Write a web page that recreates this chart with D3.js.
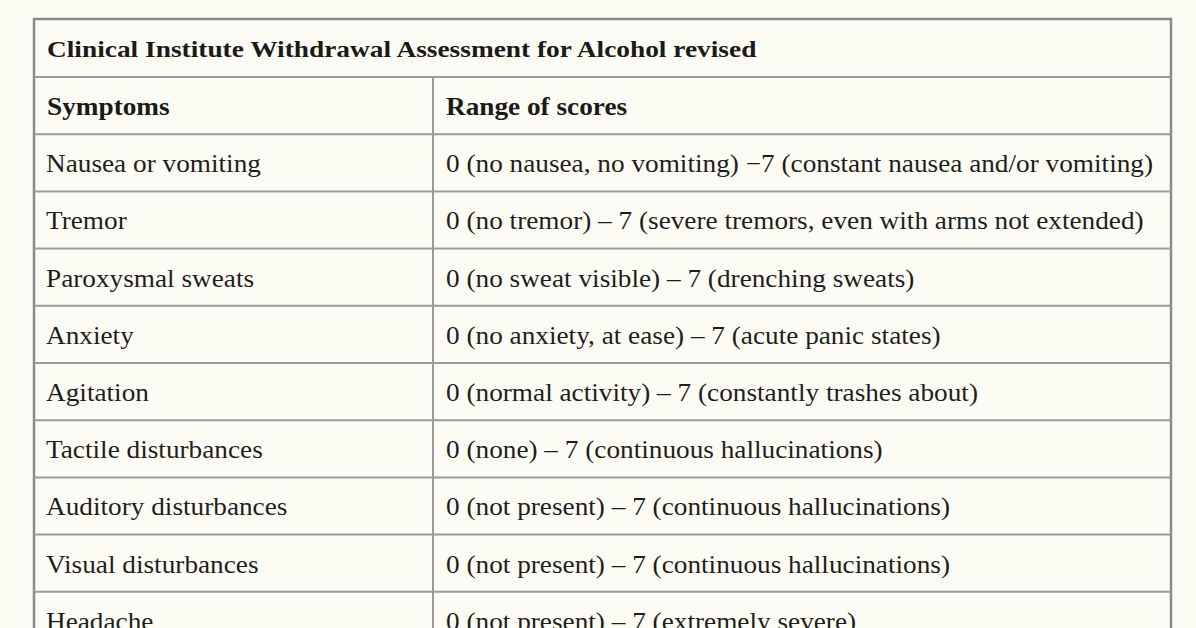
<!DOCTYPE html>
<html><head><meta charset="utf-8">
<script src="https://cdn.jsdelivr.net/npm/d3@7"></script>
<style>body{margin:0;background:#fdfcf4;}svg{display:block}</style>
</head><body><svg id="c" width="1196" height="628"></svg>
<script>
const title = "Clinical Institute Withdrawal Assessment for Alcohol revised";
const headers = ["Symptoms", "Range of scores"];
const symptoms = ["Nausea or vomiting","Tremor","Paroxysmal sweats","Anxiety","Agitation","Tactile disturbances","Auditory disturbances","Visual disturbances","Headache"];
const ranges = ["0 (no nausea, no vomiting) \u22127 (constant nausea and/or vomiting)",
"0 (no tremor) \u2013 7 (severe tremors, even with arms not extended)",
"0 (no sweat visible) \u2013 7 (drenching sweats)",
"0 (no anxiety, at ease) \u2013 7 (acute panic states)",
"0 (normal activity) \u2013 7 (constantly trashes about)",
"0 (none) \u2013 7 (continuous hallucinations)",
"0 (not present) \u2013 7 (continuous hallucinations)",
"0 (not present) \u2013 7 (continuous hallucinations)",
"0 (not present) \u2013 7 (extremely severe)"];
const svg = d3.select("#c");
const L=34, R=1171, D=433, T=19;
const rowKeys = ["title","header"].concat(symptoms);
const rowTop = k => { const i=rowKeys.indexOf(k); return i===0?T:T+58+57.2*(i-1); };
const g = svg.append("g");
g.append("rect").attr("x",L).attr("y",T).attr("width",R-L).attr("height",700).attr("fill","#fdfcf4").attr("stroke","#8a8a8a").attr("stroke-width",2.5);
rowKeys.slice(1).forEach(k=>{
  g.append("line").attr("x1",L).attr("x2",R).attr("y1",rowTop(k)).attr("y2",rowTop(k)).attr("stroke","#9a9a9a").attr("stroke-width",2);
});
g.append("line").attr("x1",D).attr("x2",D).attr("y1",rowTop("header")).attr("y2",640).attr("stroke","#9a9a9a").attr("stroke-width",2);
const font = "'Liberation Serif','Times New Roman',serif";
function stretch(t,f){ const w=t.node().getComputedTextLength(); t.attr("textLength",w*f).attr("lengthAdjust","spacingAndGlyphs"); }
stretch(g.append("text").attr("x",47).attr("y",T+38).text(title).attr("font-family",font).attr("font-weight","bold").attr("font-size",24).attr("fill","#1a1a1a"),1.14);
headers.forEach((h,i)=>stretch(g.append("text").attr("x",i?446:47).attr("y",rowTop("header")+38).text(h).attr("font-family",font).attr("font-weight","bold").attr("font-size",25).attr("fill","#1a1a1a"),1.09));
symptoms.forEach((s,i)=>{
  const yy=rowTop(s)+38;
  stretch(g.append("text").attr("x",46).attr("y",yy).text(s).attr("font-family",font).attr("font-size",25).attr("fill","#1e1e1e"),1.09);
  stretch(g.append("text").attr("x",446).attr("y",yy).text(ranges[i]).attr("font-family",font).attr("font-size",25).attr("fill","#1e1e1e"),1.09);
});
</script></body></html>
